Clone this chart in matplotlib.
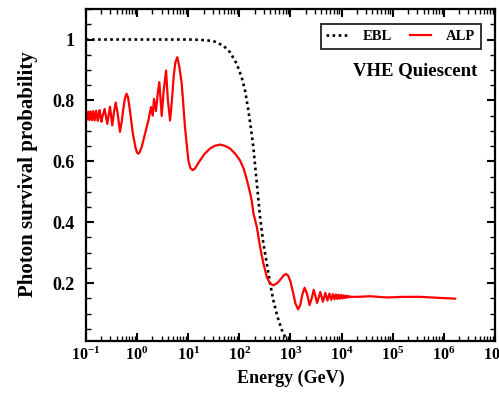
import numpy as np
import matplotlib
matplotlib.use('Agg')
import matplotlib.pyplot as plt
from matplotlib.ticker import LogLocator, FuncFormatter, MultipleLocator, NullFormatter

# 字体设置 (Times 风格粗体)
plt.rcParams['font.family'] = ['Liberation Serif', 'DejaVu Serif']
plt.rcParams['font.weight'] = 'bold'
plt.rcParams['mathtext.fontset'] = 'custom'
plt.rcParams['mathtext.rm'] = 'Liberation Serif:bold'
plt.rcParams['mathtext.it'] = 'Liberation Serif:bold:italic'
plt.rcParams['mathtext.bf'] = 'Liberation Serif:bold'

# EBL 曲线数据 (GeV, 概率)
ebl_energy = [0.1, 10.0, 17.0, 31.0, 48.6, 65.8, 88.9, 111, 129, 150, 167, 188, 219,
              254, 295, 344, 399, 462, 555, 676, 783, 940, 1122]
ebl_prob = [1.0, 1.0, 0.999, 0.995, 0.98, 0.958, 0.92, 0.876, 0.833, 0.767, 0.712, 0.645, 0.53,
            0.417, 0.33, 0.265, 0.199, 0.144, 0.09, 0.046, 0.024, 0.008, 0.002]

# ALP 曲线数据 (GeV, 概率)
alp_energy = [0.100, 0.1015, 0.1031, 0.1056, 0.1081, 0.1108, 0.1136, 0.1166, 0.1198, 0.1231,
              0.1266, 0.1303, 0.1342, 0.1384, 0.1429, 0.1477, 0.1527, 0.1582, 0.1639, 0.1702,
              0.1770, 0.1843, 0.1923, 0.2010, 0.2105, 0.232, 0.261, 0.295, 0.327, 0.352,
              0.381, 0.415, 0.462, 0.50, 0.535, 0.575, 0.621, 0.665, 0.72, 0.82,
              0.93, 1.0, 1.055, 1.12, 1.23, 1.43, 1.66, 1.87, 2.02, 2.14,
              2.34, 2.52, 2.72, 2.88, 3.03, 3.3, 3.68, 4.0, 4.41, 4.8,
              5.2, 5.6, 6.12, 6.7, 7.46, 8.65, 10.05, 11.0, 12.2, 13.6,
              17.0, 21.0, 26.7, 33.0, 41.9, 52.0, 65.8, 83.0, 103, 122,
              140, 160, 175, 188, 219, 254, 295, 329, 344, 399,
              462, 550, 650, 740, 820, 900, 1000, 1120, 1250, 1409,
              1550, 1700, 1888, 2100, 2364, 2600, 2850, 3070, 3300, 3560,
              3820, 4310, 4800, 5290, 5780, 6270, 6760, 7250, 7740, 8230,
              8720, 9210, 9700, 10190, 10680, 11170, 11660, 12150, 12640, 13130,
              13620, 14110, 14600, 16000, 20000, 36000, 77000, 160000, 340000, 720000,
              1660000]
alp_prob = [0.750, 0.762, 0.748, 0.737, 0.750, 0.763, 0.750, 0.736, 0.749, 0.764,
            0.750, 0.735, 0.749, 0.765, 0.750, 0.734, 0.749, 0.766, 0.750, 0.733,
            0.749, 0.768, 0.750, 0.730, 0.748, 0.772, 0.723, 0.779, 0.718, 0.76,
            0.793, 0.76, 0.697, 0.73, 0.77, 0.805, 0.822, 0.81, 0.77, 0.695,
            0.645, 0.628, 0.625, 0.630, 0.647, 0.691, 0.734, 0.778, 0.750, 0.805,
            0.765, 0.82, 0.860, 0.80, 0.749, 0.83, 0.898, 0.80, 0.734, 0.80,
            0.88, 0.925, 0.942, 0.91, 0.855, 0.712, 0.603, 0.578, 0.571, 0.577,
            0.603, 0.625, 0.642, 0.651, 0.655, 0.651, 0.642, 0.625, 0.603, 0.575,
            0.540, 0.50, 0.47, 0.43, 0.385, 0.319, 0.265, 0.232, 0.22, 0.199,
            0.193, 0.20, 0.214, 0.226, 0.230, 0.225, 0.205, 0.17, 0.133, 0.114,
            0.128, 0.162, 0.185, 0.165, 0.128, 0.150, 0.178, 0.158, 0.135, 0.152,
            0.171, 0.139, 0.168, 0.143, 0.166, 0.145, 0.164, 0.147, 0.163, 0.148,
            0.162, 0.149, 0.161, 0.150, 0.160, 0.151, 0.159, 0.152, 0.158, 0.153,
            0.157, 0.154, 0.156, 0.155, 0.155, 0.157, 0.153, 0.155, 0.155, 0.152,
            0.149]

fig = plt.figure(figsize=(4.99, 3.94), dpi=100)
ax = fig.add_axes([0.1723, 0.1345, 0.8197, 0.8425])

ax.plot(ebl_energy, ebl_prob, color='black', linestyle=(0, (1, 1.3)), linewidth=1.9, label='EBL')
ax.plot(alp_energy, alp_prob, color='red', linewidth=1.6, label='ALP')

ax.set_xscale('log')
ax.set_xlim(1e-1, 1e7)
ax.set_ylim(0.01, 1.1)

# 坐标轴刻度
ax.xaxis.set_major_locator(LogLocator(base=10, numticks=20))
ax.xaxis.set_minor_locator(LogLocator(base=10, subs=np.arange(2, 10), numticks=100))
ax.xaxis.set_major_formatter(FuncFormatter(lambda v, p: r'$\mathregular{10^{%d}}$' % round(np.log10(v))))
ax.xaxis.set_minor_formatter(NullFormatter())
ax.set_yticks([0.2, 0.4, 0.6, 0.8, 1.0])
ax.set_yticklabels(['0.2', '0.4', '0.6', '0.8', '1'])
ax.yaxis.set_minor_locator(MultipleLocator(0.05))

ax.tick_params(which='both', direction='in', top=True, right=True)
ax.tick_params(axis='x', labelsize=11.5, pad=4)
ax.tick_params(axis='y', labelsize=13, pad=8)
ax.tick_params(which='major', length=6, width=1.5)
ax.tick_params(which='minor', length=3.5, width=1.0)
for s in ax.spines.values():
    s.set_linewidth(1.6)

ax.set_xlabel('Energy (GeV)', fontsize=13, fontweight='bold')
ax.set_ylabel('Photon survival probability', fontsize=15, fontweight='bold')
ax.yaxis.set_label_coords(-0.117, 0.504)

leg = ax.legend(loc='upper right', ncol=2, fontsize=10.5, frameon=True, fancybox=False,
                edgecolor='black', handlelength=1.5, handletextpad=1.0, columnspacing=1.2,
                borderaxespad=0, bbox_to_anchor=(0.966, 0.955))
leg.get_frame().set_linewidth(1.4)

ax.text(0.958, 0.84, 'VHE Quiescent', transform=ax.transAxes, ha='right', va='top',
        fontsize=13.5, fontweight='bold')

fig.savefig('out.png', dpi=100)
